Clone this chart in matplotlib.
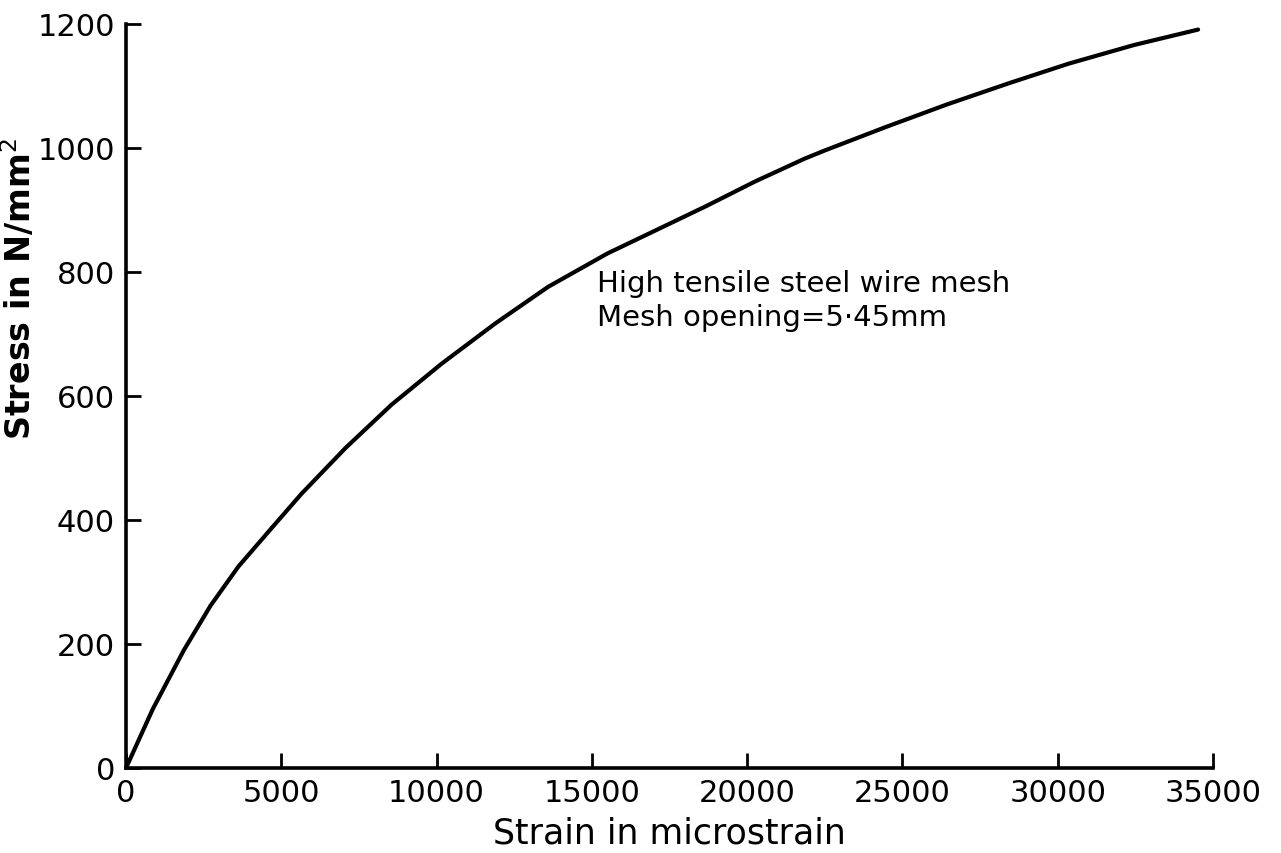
import matplotlib
matplotlib.use("Agg")
import matplotlib.pyplot as plt

# Data (strain in microstrain, stress in N/mm^2)
strain = [0, 862, 1862, 2724, 3620, 4655, 5645, 7065, 8550, 10160, 11890,
          13590, 15506, 17090, 18670, 20256, 21860, 22500, 24420, 26420,
          28460, 30350, 32450, 34520]
stress = [0, 95, 190, 262, 325, 385, 442, 516, 586, 652, 717,
          776, 830, 868, 906, 946, 983, 996, 1033, 1070,
          1105, 1136, 1166, 1191]

x_ticks = [0, 5000, 10000, 15000, 20000, 25000, 30000, 35000]
y_ticks = [0, 200, 400, 600, 800, 1000, 1200]

plt.rcParams['font.family'] = ['DejaVu Sans']

fig = plt.figure(figsize=(12.81, 8.54), dpi=100)
W, H = 1281, 854
x0, x1 = 126, 1213
y0, y1 = 769, 25
ax = fig.add_axes([x0 / W, 1 - y0 / H, (x1 - x0) / W, (y0 - y1) / H])

ax.plot(strain, stress, color='black', lw=3.0, solid_capstyle='round',
        solid_joinstyle='round')

ax.set_xlim(0, 35000)
ax.set_ylim(0, 1200)
ax.set_xticks(x_ticks)
ax.set_yticks(y_ticks)
ax.set_xticklabels([str(v) for v in x_ticks])
ax.set_yticklabels([str(v) for v in y_ticks])

for s in ['top', 'right']:
    ax.spines[s].set_visible(False)
for s in ['left', 'bottom']:
    ax.spines[s].set_linewidth(2.6)
    ax.spines[s].set_color('black')

ax.tick_params(axis='both', direction='in', length=11, width=2.0, labelsize=22, colors='black')
ax.tick_params(axis='x', pad=7)
ax.tick_params(axis='y', pad=8)

ax.set_xlabel('Strain in microstrain', fontsize=25, labelpad=6)
ax.set_ylabel('Stress in N/mm$^2$', fontsize=24, fontweight='bold')
ax.yaxis.set_label_coords(-0.081, 0.645)

ax.text(15150, 755, 'High tensile steel wire mesh\nMesh opening=5·45mm',
        fontsize=21, va='center', ha='left', linespacing=1.3)

fig.savefig('out.png', dpi=100, facecolor='white')
